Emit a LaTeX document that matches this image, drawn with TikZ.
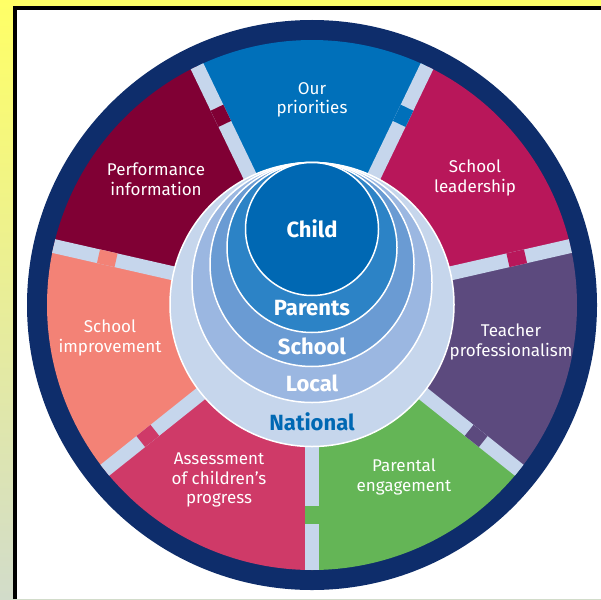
\documentclass[tikz,border=0pt]{standalone}
\usepackage{fontspec}
\setmainfont{Fira Sans}
\usetikzlibrary{positioning}

\definecolor{bgyellow}{HTML}{FFFF66}
\definecolor{bggrey}{HTML}{D2DCCA}
\definecolor{ringnavy}{HTML}{0E2D6B}
\definecolor{ourblue}{HTML}{0070BA}
\definecolor{leadred}{HTML}{B8175A}
\definecolor{teachpurple}{HTML}{5C4A7E}
\definecolor{parentgreen}{HTML}{64B556}
\definecolor{assesspink}{HTML}{CF3A68}
\definecolor{improvesalmon}{HTML}{F38276}
\definecolor{perfmaroon}{HTML}{800034}
\definecolor{sepblue}{HTML}{C6D6EC}
\definecolor{childblue}{HTML}{0068B3}
\definecolor{parentsblue}{HTML}{2C83C6}
\definecolor{schoolblue}{HTML}{6A9BD3}
\definecolor{localblue}{HTML}{9BB7E1}
\definecolor{nationalblue}{HTML}{C6D6EC}

\tikzset{
  sepbar/.style={draw=sepblue, line width=14pt},
  seglabel/.style={text=white, align=center, font=\fontsize{17}{19.5}\selectfont},
  ringlabel/.style={text=white, anchor=base, font=\fontsize{22}{24}\selectfont\bfseries},
}

\begin{document}
\begin{tikzpicture}[x=1pt,y=1pt]
	\useasboundingbox (0,0) rectangle (601,-599);
	\shade[top color=bgyellow, bottom color=bggrey] (0,0) rectangle (601,-599);
	\fill[white] (15,-8) rectangle (601,-599);
	\draw[line width=4pt] (15,-599) -- (15,-8) -- (601,-8);

	\coordinate (c) at (312,-305);
	\fill[ringnavy] (c) circle[radius=285pt];

	% seven segments, each with a tab where it starts
	\foreach \i/\col in {0/parentgreen,1/teachpurple,2/leadred,3/ourblue,4/perfmaroon,5/improvesalmon,6/assesspink}{
		\pgfmathsetmacro{\a}{270+\i*360/7}
		\fill[\col] (c) -- ([shift={(\a:265)}]c) arc[start angle=\a, end angle=\a+360/7, radius=265pt] -- cycle;
	}
	\foreach \i/\col in {0/parentgreen,1/teachpurple,2/leadred,3/ourblue,4/perfmaroon,5/improvesalmon,6/assesspink}{
		\pgfmathsetmacro{\a}{270+\i*360/7}
		\draw[sepbar] ([shift={(\a:130)}]c) -- ([shift={(\a:265)}]c);
		\draw[sepbar, draw=\col] ([shift={(\a:201)}]c) -- ([shift={(\a:219)}]c);
	}

	% nested circles, all touching at the top
	\foreach \r/\col in {142/nationalblue,120/localblue,102/schoolblue,85/parentsblue,66.5/childblue}
		\filldraw[fill=\col, draw=white, line width=1.5pt] (312,{-162.5-\r}) circle[radius=\r pt];

	\node[ringlabel] (child) at (312,-237) {Child};
	\node[ringlabel] (parents) at (312,-315) {Parents};
	\node[ringlabel] (school) at (312,-354) {School};
	\node[ringlabel] (local) at (312,-391) {Local};
	\node[ringlabel, text=childblue] (national) at (312,-430) {National};

	\node[seglabel] (priorities) at (312,-100) {Our\\priorities};
	\node[seglabel] (leadership) at (475,-178) {School\\leadership};
	\node[seglabel] (teacher) at (511,-342) {Teacher\\professionalism};
	\node[seglabel] (parental) at (404,-477) {Parental\\engagement};
	\node[seglabel] (assessment) at (219,-480) {Assessment\\of children’s\\progress};
	\node[seglabel] (improvement) at (110,-338) {School\\improvement};
	\node[seglabel] (performance) at (156,-179) {Performance\\information};
\end{tikzpicture}
\end{document}
